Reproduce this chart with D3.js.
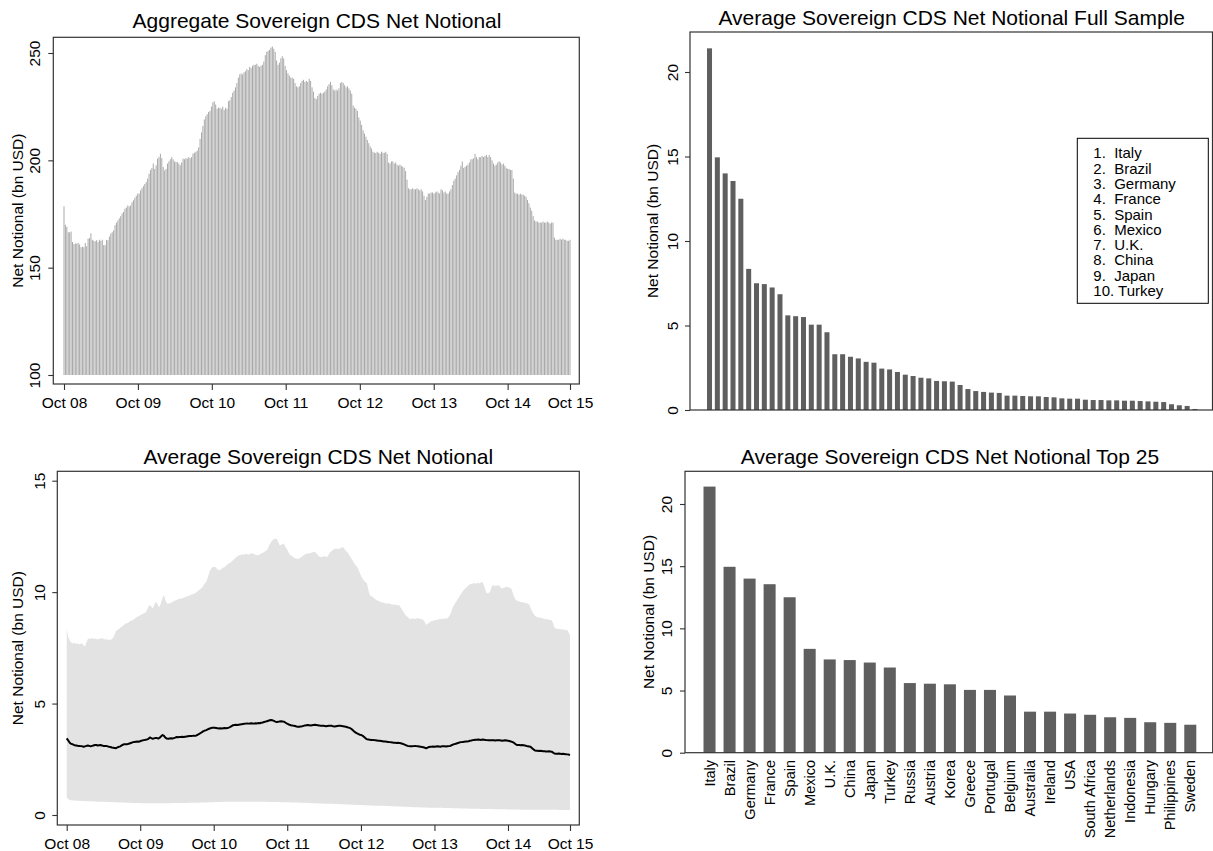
<!DOCTYPE html>
<html>
<head>
<meta charset="utf-8">
<script src="https://cdn.jsdelivr.net/npm/d3@7"></script>
<style>
  html, body { margin: 0; padding: 0; background: #fff; }
  svg { display: block; font-family: "Liberation Sans", Arial, Helvetica, sans-serif; }
</style>
</head>
<body>
<svg id="chart" width="1213" height="851"></svg>
<script>
// ---------------------------------------------------------------
// Data
// ---------------------------------------------------------------

// Weekly aggregate sovereign CDS net notional (bn USD), first week below
const firstWeek = "2008-10-03";
const aggregate = [
  178.6,170,169,166.5,166.5,166.8,162,161,161.3,161.2,
  161.5,160.8,159.5,159.8,159.5,161.5,160,163.5,163.8,166,
  163,162.5,162.3,162.8,162,163,162.5,163,160.5,160.5,
  162.8,162.8,164.5,165.9,166.5,167.4,169.8,171,172,173,
  174,175.2,176,177.5,178,179,178.5,179,180.5,181.4,
  182.5,183.5,184.5,184.5,186,187,188,189,189.9,191.5,
  193.8,195.5,196.5,198.5,196,197.7,200.8,201.5,203.1,201,
  196.9,195.3,196,198.5,199.5,200.5,201.5,200.5,199.5,199.2,
  199.2,198.5,197.7,199,200.8,200.5,201,200.8,201.5,201,
  201.5,203.1,203.5,204,204.5,206,210,213,216,219,
  220.5,221.5,222.5,223,225,227,227.5,226,224,224.5,
  224.5,224,225,223.5,224.5,224,227.5,228,229.5,231.5,
  232.5,234,236,238.5,240,240.5,240,241,241.5,242.5,
  242,243.5,243,244,244.5,244.5,245,244,243.5,244,
  244.5,246,249,250.5,251,251.5,252.5,253,252,250.5,
  246.5,244.5,245.5,247.5,248.5,247.5,244,242,240.5,239.5,
  238.5,238.5,238,236,234.5,234,234.5,236,237,237.5,
  236.5,237,236.5,238,237,234,232,229,228.5,230,
  231,231.5,231,231.5,232,233,234.5,235.5,236.5,235,
  233,232.5,233,232.5,233.5,236,236.5,236,235,234,
  234.5,233.5,232.5,231,225.5,224.5,224,223,220,218.5,
  216.5,214,212.5,211,209.5,208,206.5,205.5,204,203.5,
  203.5,204,203.5,203,204,203.5,203.5,204,203,199,
  198.5,199.5,199.5,198.5,199,198,197.5,198,197.5,197,
  196.5,195,191,187,186.5,186.5,187,186.5,186.5,187,
  186.5,186,186.5,185.5,183.5,181.5,183,184.5,184.5,185,
  185,184.5,185,185.5,185,184.5,186.5,186,185,185.5,
  184.5,184.5,185.5,186.5,188.5,190.5,191.5,193,194.5,195.5,
  197.5,199.5,196.5,197,197.5,198,199,200.5,200.5,201,
  203,201.5,200.5,201.5,201.5,202,201.5,202,202.5,201.5,
  202.5,201.5,200,198.5,197.5,198,199,199.5,199,198,
  198.5,197.5,196.5,196,196,195.5,195.5,191.5,185,184.5,
  184.5,184,184.5,184,184,183.5,183,181.5,180,178,
  176.5,174,172,171.5,171.5,171,171,171,171.5,171,
  171,171.5,171,170.5,171,171,164,163,163,163,
  163.5,163,163.5,163,163,162.5,162.5,163
];

// Weekly cross-country average (bn USD) and the band drawn around it
const averageMean = [
  3.44,3.35,3.25,3.2,3.18,3.15,3.12,3.12,3.1,3.1,
  3.09,3.08,3.06,3.08,3.1,3.12,3.1,3.08,3.1,3.12,
  3.14,3.14,3.12,3.13,3.14,3.12,3.1,3.1,3.1,3.08,
  3.06,3.05,3.03,3.02,3.01,3.0,3.03,3.06,3.08,3.12,
  3.16,3.17,3.18,3.18,3.2,3.22,3.24,3.27,3.28,3.29,
  3.3,3.29,3.31,3.33,3.35,3.36,3.38,3.39,3.42,3.48,
  3.45,3.42,3.44,3.46,3.45,3.43,3.47,3.53,3.59,3.55,
  3.47,3.43,3.42,3.43,3.44,3.43,3.45,3.47,3.5,3.49,
  3.5,3.5,3.51,3.5,3.51,3.52,3.53,3.54,3.55,3.55,
  3.56,3.55,3.57,3.6,3.64,3.68,3.72,3.76,3.79,3.81,
  3.84,3.87,3.89,3.91,3.92,3.91,3.9,3.89,3.88,3.89,
  3.88,3.89,3.9,3.89,3.9,3.92,3.95,3.99,4.03,4.04,
  4.05,4.04,4.05,4.06,4.07,4.08,4.09,4.1,4.11,4.1,
  4.11,4.12,4.11,4.1,4.12,4.11,4.13,4.12,4.14,4.15,
  4.17,4.19,4.21,4.23,4.25,4.26,4.25,4.22,4.19,4.17,
  4.18,4.2,4.21,4.2,4.19,4.15,4.11,4.08,4.05,4.03,
  4.02,4.0,3.99,3.97,3.96,3.96,3.97,3.98,4.0,4.02,
  4.03,4.04,4.03,4.02,4.03,4.04,4.05,4.04,4.03,4.02,
  4.0,4.01,4.0,3.99,3.98,3.99,4.0,4.01,4.0,3.98,
  3.97,3.98,3.99,4.0,4.0,3.99,3.98,3.97,3.96,3.94,
  3.92,3.9,3.86,3.8,3.74,3.7,3.66,3.63,3.6,3.59,
  3.55,3.5,3.44,3.4,3.39,3.38,3.37,3.36,3.36,3.35,
  3.34,3.33,3.33,3.32,3.31,3.3,3.3,3.29,3.28,3.27,
  3.26,3.25,3.24,3.24,3.23,3.24,3.23,3.22,3.2,3.18,
  3.15,3.12,3.1,3.09,3.09,3.08,3.09,3.1,3.09,3.08,
  3.07,3.06,3.05,3.04,3.02,2.99,3.02,3.05,3.06,3.06,
  3.07,3.06,3.07,3.08,3.07,3.06,3.08,3.09,3.08,3.07,
  3.08,3.09,3.1,3.13,3.16,3.18,3.2,3.22,3.24,3.26,
  3.27,3.28,3.29,3.3,3.3,3.31,3.33,3.34,3.36,3.37,
  3.38,3.38,3.39,3.38,3.37,3.39,3.38,3.37,3.36,3.35,
  3.36,3.35,3.36,3.35,3.34,3.35,3.36,3.35,3.34,3.33,
  3.34,3.35,3.34,3.33,3.32,3.3,3.28,3.25,3.2,3.15,
  3.14,3.14,3.13,3.14,3.13,3.12,3.1,3.08,3.07,3.06,
  3.0,2.95,2.9,2.88,2.88,2.87,2.88,2.87,2.86,2.86,
  2.85,2.85,2.86,2.85,2.84,2.8,2.76,2.75,2.75,2.76,
  2.75,2.74,2.75,2.74,2.73,2.72,2.71,2.69
];

const averageUpper = [
  8.37,8.0,7.85,7.75,7.7,7.72,7.7,7.68,7.7,7.65,
  7.7,7.68,7.62,7.56,7.75,7.9,7.92,7.9,7.95,7.9,
  7.92,7.9,7.88,7.92,7.9,7.95,7.9,7.88,7.9,7.85,
  7.88,7.85,7.9,7.95,8.1,8.25,8.3,8.35,8.4,8.45,
  8.5,8.55,8.6,8.6,8.65,8.7,8.72,8.75,8.8,8.85,
  8.9,8.92,8.95,9.0,9.02,9.05,9.1,9.2,9.35,9.42,
  9.35,9.27,9.4,9.57,9.5,9.38,9.34,9.55,9.75,9.87,
  9.65,9.5,9.48,9.5,9.52,9.55,9.6,9.62,9.65,9.68,
  9.7,9.7,9.72,9.75,9.78,9.8,9.82,9.85,9.88,9.9,
  9.92,9.95,10.0,10.05,10.1,10.15,10.2,10.3,10.4,10.46,
  10.65,10.85,11.0,11.1,11.13,11.13,11.1,11.0,10.98,11.0,
  11.05,11.1,11.12,11.18,11.25,11.28,11.32,11.38,11.43,11.5,
  11.55,11.6,11.65,11.66,11.68,11.7,11.68,11.72,11.7,11.68,
  11.72,11.75,11.73,11.7,11.68,11.66,11.65,11.7,11.73,11.76,
  11.8,11.85,11.88,12.0,12.15,12.25,12.33,12.38,12.4,12.4,
  12.25,12.1,12.12,12.16,12.18,12.05,11.95,11.85,11.7,11.65,
  11.6,11.55,11.52,11.5,11.5,11.51,11.55,11.6,11.65,11.7,
  11.72,11.75,11.73,11.76,11.78,11.8,11.81,11.75,11.68,11.6,
  11.58,11.58,11.6,11.62,11.58,11.6,11.7,11.8,11.85,11.9,
  11.93,11.96,11.94,11.95,11.96,12.0,12.03,11.95,11.85,11.8,
  11.7,11.6,11.5,11.4,11.3,11.2,11.14,11.0,10.85,10.7,
  10.6,10.5,10.45,10.39,10.1,9.87,9.82,9.79,9.72,9.68,
  9.64,9.6,9.58,9.55,9.55,9.52,9.5,9.48,9.5,9.48,
  9.46,9.45,9.44,9.43,9.42,9.42,9.4,9.3,9.2,9.11,
  9.0,8.92,8.88,8.82,8.8,8.82,8.82,8.8,8.82,8.84,
  8.82,8.8,8.78,8.75,8.65,8.52,8.58,8.62,8.67,8.7,
  8.72,8.74,8.75,8.76,8.78,8.8,8.8,8.81,8.82,8.82,
  8.82,8.9,9.0,9.15,9.34,9.45,9.55,9.65,9.75,9.85,
  9.95,10.05,10.12,10.18,10.24,10.3,10.35,10.38,10.39,10.4,
  10.38,10.4,10.42,10.39,10.44,10.46,10.3,10.1,9.94,9.96,
  9.98,10.15,10.31,10.3,10.28,10.3,10.31,10.28,10.2,10.16,
  10.2,10.22,10.24,10.22,10.2,10.18,10.05,9.85,9.7,9.64,
  9.6,9.58,9.56,9.55,9.54,9.52,9.5,9.49,9.45,9.3,
  9.15,9.04,8.95,8.89,8.88,8.86,8.85,8.84,8.82,8.8,
  8.79,8.78,8.76,8.75,8.74,8.6,8.4,8.37,8.36,8.35,
  8.34,8.33,8.32,8.31,8.3,8.3,8.2,8.07
];

const averageLower = [
  .78,.72,.67,.66,.66,.65,.65,.64,.64,.64,
  .63,.63,.63,.63,.62,.62,.62,.62,.62,.61,
  .61,.61,.6,.6,.6,.6,.59,.59,.59,.58,
  .58,.58,.58,.57,.57,.57,.57,.56,.56,.56,
  .56,.56,.55,.55,.55,.55,.54,.54,.54,.54,
  .54,.54,.53,.53,.53,.53,.53,.53,.53,.53,
  .53,.53,.53,.53,.53,.53,.53,.53,.53,.53,
  .53,.53,.53,.53,.53,.54,.54,.54,.54,.54,
  .54,.54,.54,.54,.54,.54,.54,.55,.55,.55,
  .55,.55,.55,.55,.55,.56,.56,.56,.56,.56,
  .57,.57,.57,.57,.57,.58,.58,.58,.58,.58,
  .58,.59,.59,.59,.59,.59,.59,.6,.6,.6,
  .6,.6,.6,.6,.6,.6,.6,.6,.6,.6,
  .6,.6,.6,.6,.59,.59,.59,.59,.59,.59,
  .59,.59,.59,.58,.58,.58,.58,.58,.58,.58,
  .58,.58,.57,.57,.57,.57,.57,.57,.57,.56,
  .56,.56,.56,.56,.56,.55,.55,.55,.55,.55,
  .54,.54,.54,.54,.53,.53,.53,.53,.52,.52,
  .52,.52,.51,.51,.51,.51,.5,.5,.5,.5,
  .49,.49,.49,.49,.48,.48,.48,.48,.47,.47,
  .47,.47,.46,.46,.46,.46,.45,.45,.45,.45,
  .44,.44,.44,.44,.43,.43,.43,.43,.42,.42,
  .42,.42,.41,.41,.41,.41,.4,.4,.4,.4,
  .39,.39,.39,.39,.38,.38,.38,.38,.37,.37,
  .37,.37,.36,.36,.36,.36,.35,.35,.35,.35,
  .35,.34,.34,.34,.34,.34,.33,.33,.33,.33,
  .33,.33,.32,.32,.32,.32,.32,.31,.31,.31,
  .31,.31,.31,.3,.3,.3,.3,.3,.3,.29,
  .29,.29,.29,.29,.29,.29,.28,.28,.28,.28,
  .28,.28,.28,.28,.27,.27,.27,.27,.27,.27,
  .27,.27,.27,.26,.26,.26,.26,.26,.26,.26,
  .26,.26,.25,.25,.25,.25,.25,.25,.25,.25,
  .25,.25,.25,.24,.24,.24,.24,.24,.24,.24,
  .24,.24,.24,.24,.24,.23,.23,.23,.23,.23,
  .23,.23,.23,.23,.23,.23,.23,.23,.23,.22,
  .22,.22,.22,.22,.22,.22,.22,.22
];

// Date axis: tick dates and their labels (last label sits on the final week)
const dateTickDates = ["2008-10-03","2009-10-03","2010-10-03","2011-10-03","2012-10-03","2013-10-03","2014-10-03","2015-08-07"];
const dateTickLabels = ["Oct 08","Oct 09","Oct 10","Oct 11","Oct 12","Oct 13","Oct 14","Oct 15"];

// Average net notional by country (bn USD), largest 25
const topCountries = ["Italy","Brazil","Germany","France","Spain","Mexico","U.K.","China","Japan","Turkey",
  "Russia","Austria","Korea","Greece","Portugal","Belgium","Australia","Ireland","USA","South Africa",
  "Netherlands","Indonesia","Hungary","Philippines","Sweden"];
const topValues = [21.4,14.95,14.0,13.55,12.5,8.35,7.5,7.45,7.25,6.85,
  5.6,5.55,5.5,5.05,5.05,4.6,3.3,3.3,3.15,3.05,
  2.85,2.8,2.45,2.4,2.25];
// Remaining countries of the full sample, in ranked order
const restValues = [2.09,2.01,1.91,1.87,1.72,1.70,1.68,1.48,1.24,1.12,
  1.07,1.03,1.01,0.85,0.85,0.83,0.81,0.81,0.77,0.75,
  0.69,0.67,0.67,0.61,0.59,0.59,0.57,0.57,0.55,0.55,
  0.53,0.51,0.49,0.47,0.34,0.28,0.24,0.06];

const legendCount = 10;
const aggTicks = [100,150,200,250];
const avgTicks = [0,5,10,15];
const barTicks = [0,5,10,15,20];
const yTitle = "Net Notional (bn USD)";

// ---------------------------------------------------------------
// Drawing
// ---------------------------------------------------------------
const svg = d3.select("#chart");
const parse = d3.timeParse("%Y-%m-%d");
const start = parse(firstWeek);
const weeks = aggregate.map((_, i) => d3.timeWeek.offset(start, i));
const tickDates = dateTickDates.map(parse);
const fullSample = topValues.concat(restValues);

const FRAME = "#333";
const TICK_FONT = 15.5;

function panelFrame(p) {
  svg.append("rect")
    .attr("x", p.left).attr("y", p.top)
    .attr("width", p.right - p.left).attr("height", p.bottom - p.top)
    .attr("fill", "none").attr("stroke", FRAME).attr("stroke-width", 1.2);
}

function title(text, cx, baseline) {
  svg.append("text").attr("x", cx).attr("y", baseline)
    .attr("text-anchor", "middle").attr("font-size", 21).attr("fill", "#000")
    .text(text);
}

function yAxis(p, scale, ticks, labelX, titleX) {
  const g = svg.append("g").attr("transform", `translate(${p.left},0)`)
    .call(d3.axisLeft(scale).tickValues(ticks).tickSize(5).tickFormat(d3.format("d")));
  g.select(".domain").remove();
  g.selectAll(".tick line").attr("stroke", FRAME).attr("stroke-width", 1.1);
  g.selectAll(".tick text")
    .attr("x", null).attr("y", null).attr("dy", null)
    .attr("text-anchor", "middle")
    .attr("transform", `translate(${labelX - p.left},0) rotate(-90)`)
    .attr("font-size", TICK_FONT).attr("fill", "#000")
    .style("font-family", "inherit");
  svg.append("text")
    .attr("transform", `translate(${titleX},${(p.top + p.bottom) / 2}) rotate(-90)`)
    .attr("text-anchor", "middle").attr("font-size", TICK_FONT).attr("fill", "#000")
    .text(yTitle);
}

function dateAxis(p, scale, labelBaseline) {
  const g = svg.append("g").attr("transform", `translate(0,${p.bottom})`)
    .call(d3.axisBottom(scale).tickValues(tickDates).tickSize(6)
      .tickFormat((d, i) => dateTickLabels[i]));
  g.select(".domain").remove();
  g.selectAll(".tick line").attr("stroke", FRAME).attr("stroke-width", 1.1);
  g.selectAll(".tick text")
    .attr("y", labelBaseline - p.bottom).attr("dy", null)
    .attr("font-size", TICK_FONT).attr("fill", "#000")
    .style("font-family", "inherit");
}

// ---- Panel 1: aggregate weekly bars ----
{
  const p = { left: 53.3, top: 37.3, right: 579.3, bottom: 384 };
  const x = d3.scaleTime().domain([weeks[0], weeks[weeks.length - 1]]).range([64, 570]);
  const y = d3.scaleLinear().domain([100, 250]).range([375, 53]);
  const bw = 1.0;
  svg.append("g").selectAll("rect").data(aggregate).join("rect")
    .attr("x", (d, i) => x(weeks[i]) - bw / 2)
    .attr("width", bw)
    .attr("y", d => y(d))
    .attr("height", d => y(100) - y(d))
    .attr("fill", "#a9a9a9");
  panelFrame(p);
  yAxis(p, y, aggTicks, 40, 22.5);
  dateAxis(p, x, 408.3);
  title("Aggregate Sovereign CDS Net Notional", 317, 28);
}

// ---- Panel 2: full-sample country bars with top-10 legend ----
{
  const p = { left: 690, top: 32, right: 1212.5, bottom: 410 };
  const x = d3.scaleBand().domain(d3.range(fullSample.length))
    .range([705.6, 1198.9]).paddingInner(0.36).paddingOuter(0.18);
  const y = d3.scaleLinear().domain([0, 20]).range([410, 72]);
  svg.append("g").selectAll("rect").data(fullSample).join("rect")
    .attr("x", (d, i) => x(i)).attr("width", x.bandwidth())
    .attr("y", d => y(d)).attr("height", d => y(0) - y(d))
    .attr("fill", "#5f5f5f");
  panelFrame(p);
  yAxis(p, y, barTicks, 678, 658);
  title("Average Sovereign CDS Net Notional Full Sample", 951.7, 25);

  const lg = { x: 1077.3, y: 138.3, w: 131, h: 165, textX: 1093.3, first: 158.3, step: 15.3 };
  svg.append("rect").attr("x", lg.x).attr("y", lg.y).attr("width", lg.w).attr("height", lg.h)
    .attr("fill", "#fff").attr("stroke", "#000").attr("stroke-width", 1);
  svg.append("g").selectAll("text").data(topCountries.slice(0, legendCount)).join("text")
    .attr("x", lg.textX).attr("y", (d, i) => lg.first + i * lg.step)
    .attr("font-size", 15).attr("fill", "#000")
    .attr("xml:space", "preserve").style("white-space", "pre")
    .text((d, i) => (i + 1 < 10 ? `${i + 1}.  ` : `${i + 1}. `) + d);
}

// ---- Panel 3: average with band ----
{
  const p = { left: 57.3, top: 471.3, right: 579.3, bottom: 825 };
  const x = d3.scaleTime().domain([weeks[0], weeks[weeks.length - 1]]).range([66.7, 570]);
  const y = d3.scaleLinear().domain([0, 15]).range([815, 480.7]);
  const band = d3.area()
    .x((d, i) => x(weeks[i]))
    .y0((d, i) => y(averageLower[i]))
    .y1((d, i) => y(averageUpper[i]));
  svg.append("path").datum(averageUpper).attr("d", band).attr("fill", "#e3e3e3");
  const line = d3.line().x((d, i) => x(weeks[i])).y(d => y(d));
  svg.append("path").datum(averageMean).attr("d", line)
    .attr("fill", "none").attr("stroke", "#000").attr("stroke-width", 2)
    .attr("stroke-linejoin", "round");
  panelFrame(p);
  yAxis(p, y, avgTicks, 44.5, 23);
  dateAxis(p, x, 848.5);
  title("Average Sovereign CDS Net Notional", 318.3, 464.3);
}

// ---- Panel 4: top 25 country bars ----
{
  const p = { left: 685, top: 471.3, right: 1212.7, bottom: 752.7 };
  const x = d3.scaleBand().domain(topCountries)
    .range([699.5, 1200.3]).paddingInner(0.4).paddingOuter(0.2);
  const y = d3.scaleLinear().domain([0, 20]).range([752.7, 504]);
  svg.append("g").selectAll("rect").data(topValues).join("rect")
    .attr("x", (d, i) => x(topCountries[i])).attr("width", x.bandwidth())
    .attr("y", d => y(d)).attr("height", d => y(0) - y(d))
    .attr("fill", "#5f5f5f");
  panelFrame(p);
  yAxis(p, y, barTicks, 672, 654);
  const g = svg.append("g").attr("transform", `translate(0,${p.bottom})`)
    .call(d3.axisBottom(x).tickSize(0));
  g.select(".domain").remove();
  g.selectAll(".tick text")
    .attr("x", null).attr("y", null).attr("dy", "0.35em")
    .attr("text-anchor", "end")
    .attr("transform", `translate(0,${760 - p.bottom}) rotate(-90)`)
    .attr("font-size", 14.5).attr("fill", "#000")
    .style("font-family", "inherit");
  title("Average Sovereign CDS Net Notional Top 25", 950, 464.3);
}
</script>
</body>
</html>
